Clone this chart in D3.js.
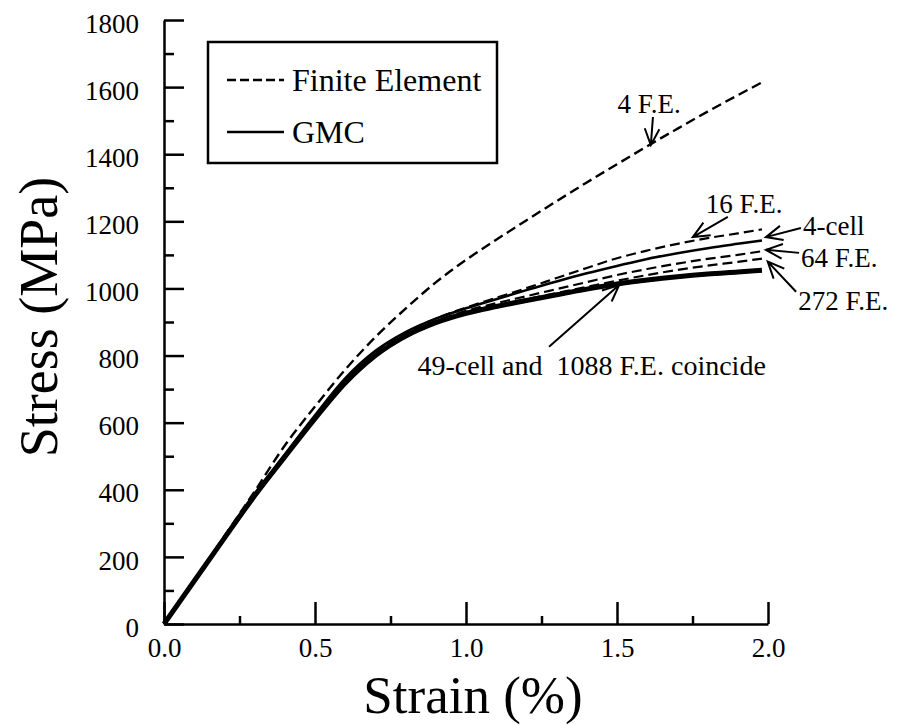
<!DOCTYPE html>
<html>
<head>
<meta charset="utf-8">
<script src="https://cdn.jsdelivr.net/npm/d3@7"></script>
<style>
  body { margin: 0; background: #fff; }
  text { font-family: "Liberation Serif", "Times New Roman", serif; fill: #000; }
</style>
</head>
<body>
<div id="chart"></div>
<script>
// strain (%) sample points shared by every curve
const strain = [0, 0.1, 0.2, 0.3, 0.4, 0.5, 0.6, 0.7, 0.8, 0.9, 1.0, 1.1, 1.2, 1.3, 1.4, 1.5, 1.6, 1.7, 1.8, 1.9, 1.98];

// stress (MPa)
const fe4    = [0, 130, 262, 395, 532, 648, 758, 855, 940, 1018, 1085, 1145, 1203, 1260, 1316, 1370, 1424, 1476, 1527, 1576, 1614];
const fe16   = [0, 129, 258, 385, 502, 618, 728, 810, 868, 910, 943, 972, 1001, 1031, 1061, 1090, 1113, 1133, 1150, 1164, 1176];
const gmc4   = [0, 130, 260, 388, 505, 622, 732, 814, 870, 910, 941, 968, 995, 1021, 1045, 1067, 1088, 1105, 1120, 1133, 1143];
const fe64   = [0, 128, 256, 382, 499, 614, 724, 806, 862, 902, 933, 956, 977, 998, 1019, 1040, 1058, 1074, 1088, 1100, 1111];
const fe272  = [0, 128, 255, 381, 497, 612, 721, 803, 859, 900, 930, 950, 968, 986, 1005, 1023, 1040, 1055, 1068, 1079, 1089];
const gmc49  = [0, 128, 256, 382, 498, 612, 718, 800, 858, 898, 926, 946, 964, 981, 998, 1013, 1025, 1035, 1043, 1049, 1054];
const fe1088 = [0, 127, 254, 379, 495, 609, 715, 797, 855, 896, 924, 944, 962, 979, 996, 1011, 1023, 1033, 1041, 1047, 1052];

const yTicks = [0, 200, 400, 600, 800, 1000, 1200, 1400, 1600, 1800];
const yMinor = [100, 300, 500, 700, 900, 1100, 1300, 1500, 1700];
const xTicks = [0, 0.5, 1.0, 1.5, 2.0];
const xMinor = [0.25, 0.75, 1.25, 1.75];
const xTickLabels = ["0.0", "0.5", "1.0", "1.5", "2.0"];

const legendLabels = ["Finite Element", "GMC"];

// annotation text, arrow tip, arrow tail and label anchor (strain, stress)
const annoText  = ["4 F.E.", "16 F.E.", "4-cell", "64 F.E.", "272 F.E.", "49-cell and  1088 F.E. coincide"];
const annoTip   = [[1.612, 1427], [1.751, 1153], [1.993, 1153], [1.993, 1115], [1.999, 1080], [1.507, 1010]];
const annoTail  = [[1.619, 1511], [1.867, 1213], [2.109, 1180], [2.103, 1106], [2.093, 990], [1.275, 826]];
const annoLabel = [[1.502, 1523], [1.794, 1225], [2.116, 1159], [2.109, 1064], [2.100, 936], [0.839, 742]];

const width = 898;
const height = 725;
const serif = '"Liberation Serif", "Times New Roman", serif';

const svg = d3.select("#chart")
    .append("svg")
    .attr("width", width)
    .attr("height", height);

const x = d3.scaleLinear()
    .domain([0, 2])
    .range([164, 768]);

const y = d3.scaleLinear()
    .domain([0, 1800])
    .range([624, 20]);

// axes: ticks point inward
const yAxis = svg.append("g")
    .attr("transform", `translate(${x(0)},0)`)
    .call(d3.axisLeft(y).tickValues(yTicks).tickSize(-20).tickSizeOuter(0).tickPadding(25)
        .tickFormat(d3.format("d")));

yAxis.selectAll("text")
    .attr("dy", "0.45em")
    .attr("font-family", serif)
    .style("font-size", "27px");

svg.append("g")
    .attr("transform", `translate(${x(0)},0)`)
    .call(d3.axisLeft(y).tickValues(yMinor).tickSize(-10).tickSizeOuter(0).tickFormat(""))
    .select(".domain").remove();

const xAxis = svg.append("g")
    .attr("transform", `translate(0,${y(0)})`)
    .call(d3.axisBottom(x).tickValues(xTicks).tickSize(-22).tickSizeOuter(0).tickPadding(14)
        .tickFormat((d, i) => xTickLabels[i]));

xAxis.selectAll("text")
    .attr("font-family", serif)
    .style("font-size", "27px");

svg.append("g")
    .attr("transform", `translate(0,${y(0)})`)
    .call(d3.axisBottom(x).tickValues(xMinor).tickSize(-8).tickSizeOuter(0).tickFormat(""))
    .select(".domain").remove();

svg.selectAll(".domain, .tick line")
    .attr("stroke", "#000")
    .attr("stroke-width", 2.5);

// axis titles
svg.append("text")
    .attr("transform", "translate(57,317) rotate(-90)")
    .attr("text-anchor", "middle")
    .attr("font-family", serif)
    .style("font-size", "54px")
    .text("Stress (MPa)");

svg.append("text")
    .attr("x", 473)
    .attr("y", 713)
    .attr("text-anchor", "middle")
    .attr("font-family", serif)
    .style("font-size", "53px")
    .text("Strain (%)");

// curves
const series = [
    { name: "49-cell", values: gmc49, dashed: false, w: 5 },
    { name: "1088 F.E.", values: fe1088, dashed: true, w: 2.5 },
    { name: "272 F.E.", values: fe272, dashed: true, w: 2.2 },
    { name: "64 F.E.", values: fe64, dashed: true, w: 2.2 },
    { name: "4-cell", values: gmc4, dashed: false, w: 2.6 },
    { name: "16 F.E.", values: fe16, dashed: true, w: 2.2 },
    { name: "4 F.E.", values: fe4, dashed: true, w: 2.4 }
];

const line = d3.line()
    .x(d => x(d[0]))
    .y(d => y(d[1]))
    .curve(d3.curveMonotoneX);

svg.selectAll(".curve")
    .data(series)
    .enter()
    .append("path")
    .attr("class", "curve")
    .attr("d", d => line(strain.map((s, i) => [s, d.values[i]])))
    .attr("fill", "none")
    .attr("stroke", "#000")
    .attr("stroke-width", d => d.w)
    .attr("stroke-dasharray", d => d.dashed ? "10,5" : null);

// legend
const legend = svg.append("g");

legend.append("rect")
    .attr("x", 208)
    .attr("y", 42)
    .attr("width", 289)
    .attr("height", 121)
    .attr("fill", "#fff")
    .attr("stroke", "#000")
    .attr("stroke-width", 2.5);

legendLabels.forEach((label, i) => {
    const ly = 80 + i * 52;
    legend.append("line")
        .attr("x1", 227)
        .attr("x2", 284)
        .attr("y1", ly)
        .attr("y2", ly)
        .attr("stroke", "#000")
        .attr("stroke-width", 2.5)
        .attr("stroke-dasharray", i === 0 ? "9,4" : null);
    legend.append("text")
        .attr("x", 292)
        .attr("y", ly + 11)
        .attr("font-family", serif)
        .style("font-size", "32px")
        .text(label);
});

// annotations with arrows
const annos = svg.append("g");

annoText.forEach((t, i) => {
    const tip = [x(annoTip[i][0]), y(annoTip[i][1])];
    const tail = [x(annoTail[i][0]), y(annoTail[i][1])];
    const ang = Math.atan2(tail[1] - tip[1], tail[0] - tip[0]);
    const len = 18;
    const b1 = [tip[0] + len * Math.cos(ang + 0.42), tip[1] + len * Math.sin(ang + 0.42)];
    const b2 = [tip[0] + len * Math.cos(ang - 0.42), tip[1] + len * Math.sin(ang - 0.42)];

    annos.append("path")
        .attr("d", `M${tail}L${tip}M${b1}L${tip}L${b2}`)
        .attr("fill", "none")
        .attr("stroke", "#000")
        .attr("stroke-width", 2);

    annos.append("text")
        .attr("x", x(annoLabel[i][0]))
        .attr("y", y(annoLabel[i][1]))
        .attr("font-family", serif)
        .style("font-size", i === 5 ? "28px" : "27px")
        .style("white-space", "pre")
        .text(t);
});
</script>
</body>
</html>
